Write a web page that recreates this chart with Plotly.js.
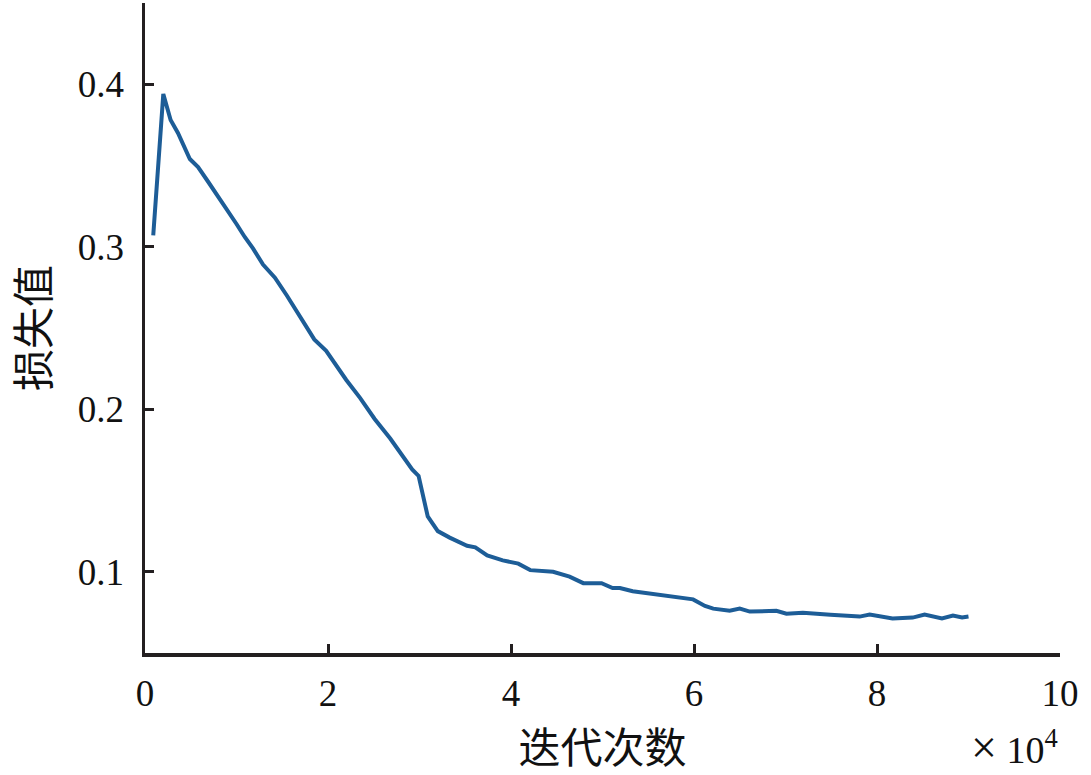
<!DOCTYPE html>
<html>
<head>
<meta charset="utf-8">
<script src="https://cdn.plot.ly/plotly-3.0.1.min.js"></script>
<style>html,body{margin:0;padding:0;background:#fff;}#chart{width:1091px;height:775px;}</style>
</head>
<body>
<div id="chart"></div>
<script>
// iterations in units of 10^4
const iterations = [0.09,0.20,0.28,0.36,0.49,0.58,0.69,0.80,0.90,1.00,1.09,1.18,1.29,1.42,1.55,1.65,1.75,1.85,1.98,2.10,2.20,2.35,2.51,2.68,2.84,2.92,2.99,3.09,3.20,3.33,3.52,3.61,3.74,3.91,4.08,4.21,4.46,4.64,4.79,4.99,5.11,5.19,5.33,5.77,5.90,5.99,6.12,6.21,6.39,6.50,6.61,6.80,6.90,7.01,7.19,7.49,7.63,7.81,7.92,8.17,8.39,8.52,8.71,8.83,8.93,9.00];
const lossValues = [0.307,0.394,0.378,0.370,0.354,0.349,0.340,0.331,0.323,0.314,0.306,0.299,0.289,0.281,0.270,0.261,0.251,0.243,0.236,0.226,0.218,0.207,0.194,0.182,0.169,0.163,0.159,0.134,0.125,0.121,0.116,0.115,0.110,0.107,0.105,0.101,0.100,0.097,0.093,0.093,0.090,0.090,0.088,0.085,0.084,0.083,0.079,0.0773,0.076,0.0773,0.0755,0.0755,0.076,0.0742,0.0748,0.0736,0.073,0.0724,0.0736,0.0712,0.0718,0.0736,0.0712,0.073,0.0718,0.0724];
const xTickVals = [0,2,4,6,8,10];
const xTickText = ["0","2","4","6","8","10"];
const yTickVals = [0.1,0.2,0.3,0.4];
const yTickText = ["0.1","0.2","0.3","0.4"];
const xLabel = "迭代次数";
const yLabel = "损失值";

const serif = "Liberation Serif, DejaVu Serif, serif";
const cjk = "Noto Sans CJK SC, sans-serif";
const axisColor = "#231f20";

Plotly.newPlot("chart", [{
  x: iterations, y: lossValues, type: "scatter", mode: "lines",
  line: {color: "#1d5d97", width: 4}, hoverinfo: "skip"
}], {
  width: 1091, height: 775,
  margin: {l: 145, r: 31, t: 3, b: 122},
  paper_bgcolor: "#fff", plot_bgcolor: "#fff",
  showlegend: false,
  xaxis: {
    range: [0, 10], tickvals: xTickVals, ticktext: xTickText,
    showgrid: false, zeroline: false, showline: true, linecolor: axisColor, linewidth: 3.5,
    ticks: "inside", ticklen: 9, tickwidth: 3, tickcolor: axisColor,
    tickfont: {family: serif, size: 37, color: "#111"}, ticklabelstandoff: 5,
    title: {text: xLabel, font: {family: cjk, size: 42, color: "#111"}, standoff: 14}
  },
  yaxis: {
    range: [0.05, 0.45], tickvals: yTickVals, ticktext: yTickText,
    showgrid: false, zeroline: false, showline: true, linecolor: axisColor, linewidth: 3.5,
    ticks: "inside", ticklen: 9, tickwidth: 3, tickcolor: axisColor,
    tickfont: {family: serif, size: 37, color: "#111"}, ticklabelstandoff: 10,
    title: {text: yLabel, font: {family: cjk, size: 42, color: "#111"}, standoff: 20}
  },
  annotations: [{
    xref: "paper", yref: "paper", x: 1.0, y: 0, yshift: -94, xanchor: "right", yanchor: "middle",
    text: "<span style='font-size:46px'>×</span> 10<sup>4</sup>", showarrow: false,
    font: {family: serif, size: 38, color: "#111"}
  }]
}, {staticPlot: true});
</script>
</body>
</html>
